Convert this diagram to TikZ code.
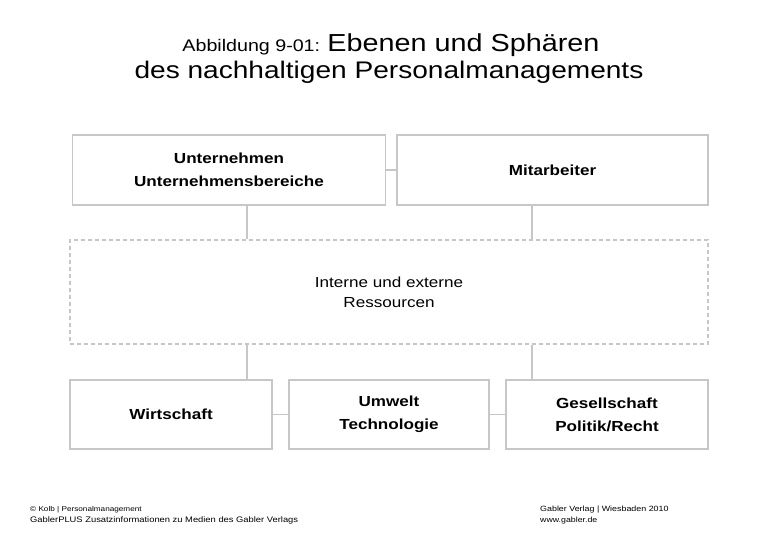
\documentclass[tikz,border=0pt]{standalone}
\usepackage{fontspec}
\setmainfont{Liberation Sans}[FakeStretch=1.17]
\usetikzlibrary{positioning}
\begin{document}
\begin{tikzpicture}[x=1pt,y=-1pt,
  box/.style={draw=black!22, line width=1.4pt, fill=white, inner sep=0pt, align=center, font=\fontsize{14.6}{23}\selectfont\bfseries},
  dbox/.style={draw=black!22, line width=1.4pt, dashed, dash pattern=on 4pt off 3pt, inner sep=0pt, align=center, font=\fontsize{14.6}{20}\selectfont},
  conn/.style={draw=black!22, line width=1.4pt},
  foot/.style={anchor=north west, align=left, inner sep=0pt}]
\useasboundingbox (0,0) rectangle (780,540);
\fill[white] (0,0) rectangle (780,540);
% title
\node[inner sep=0pt, anchor=base] (t1) at (391,52) {\fontsize{16.8}{20}\selectfont Abbildung 9-01: \fontsize{24.6}{30}\selectfont Ebenen und Sphären};
\node[inner sep=0pt, anchor=base] (t2) at (389,79) {\fontsize{24}{30}\selectfont des nachhaltigen Personalmanagements};
% nodes
\node[box, minimum width=313pt, minimum height=70pt] (u) at (229,170) {Unternehmen\\Unternehmensbereiche};
\node[box, minimum width=311pt, minimum height=70pt] (m) at (552.5,170) {Mitarbeiter};
\node[dbox, minimum width=638pt, minimum height=104pt] (r) at (389,292) {Interne und externe\\Ressourcen};
\node[box, minimum width=202pt, minimum height=69pt] (w) at (171,414.5) {Wirtschaft};
\node[box, minimum width=200pt, minimum height=69pt] (t) at (389,414.5) {Umwelt\\Technologie};
\node[box, minimum width=202pt, minimum height=69pt] (g) at (607,414.5) {Gesellschaft\\Politik/Recht};
% connectors
\path[conn] (u.east) -- (m.west);
\path[conn] (w.east) -- (t.west);
\path[conn] (t.east) -- (g.west);
\coordinate (c1) at (247,0);
\coordinate (c2) at (532,0);
\path[conn] (u.south -| c1) -- (r.north -| c1);
\path[conn] (m.south -| c2) -- (r.north -| c2);
\path[conn] (r.south -| c1) -- (w.north -| c1);
\path[conn] (r.south -| c2) -- (g.north -| c2);
% footer
\node[foot, anchor=base west] (f1) at (30,511) {\fontsize{7}{9}\selectfont © Kolb | Personalmanagement};
\node[foot, anchor=base west] (f1b) at (30,522) {\fontsize{8}{9}\selectfont GablerPLUS Zusatzinformationen zu Medien des Gabler Verlags};
\node[foot, anchor=base west] (f2) at (540,511) {\fontsize{7.6}{9}\selectfont Gabler Verlag | Wiesbaden 2010};
\node[foot, anchor=base west] (f2b) at (540,522) {\fontsize{7.5}{9}\selectfont www.gabler.de};
\end{tikzpicture}
\end{document}
